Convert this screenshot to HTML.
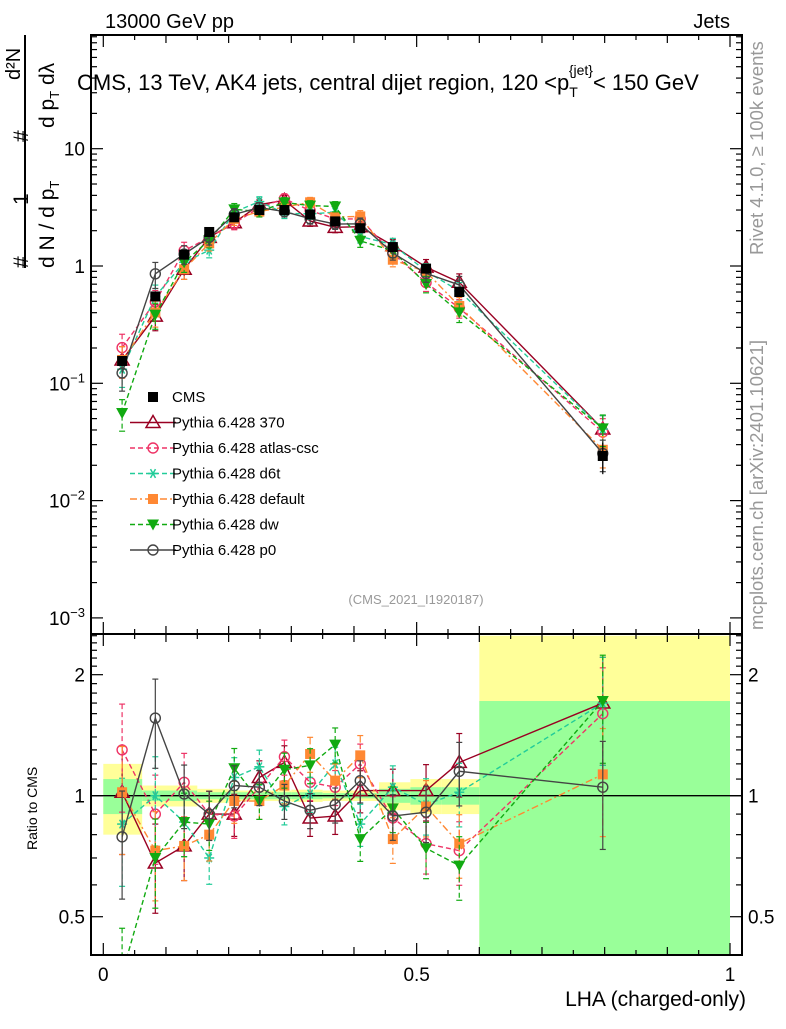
<!DOCTYPE html>
<html><head><meta charset="utf-8"><style>
body{margin:0;background:#fff}
svg{font-family:"Liberation Sans",sans-serif}
</style></head><body>
<svg id="chart" width="786" height="1024" xmlns="http://www.w3.org/2000/svg">
<defs>
<clipPath id="cm"><rect x="91" y="35" width="651" height="599"/></clipPath>
<clipPath id="cr"><rect x="91" y="634" width="651" height="321"/></clipPath>
</defs>
<g id="bands" clip-path="url(#cr)"></g>
<g id="mainMarks" clip-path="url(#cm)"></g>
<g id="ratioMarks" clip-path="url(#cr)"></g>
<g id="axes"></g>
<text x="105" y="28" font-size="20">13000 GeV pp</text>
<text x="730" y="28" font-size="20" text-anchor="end">Jets</text>
<text x="77" y="90" font-size="22">CMS, 13 TeV, AK4 jets, central dijet region, 120 &lt;p<tspan font-size="14" dy="7">T</tspan><tspan font-size="14" dx="-9" dy="-22">{jet}</tspan><tspan dy="15">&lt; 150 GeV</tspan></text>
<text transform="translate(763,255) rotate(-90)" font-size="18.5" fill="#999">Rivet 4.1.0, ≥ 100k events</text>
<text transform="translate(763,630) rotate(-90)" font-size="18.5" fill="#999">mcplots.cern.ch [arXiv:2401.10621]</text>
<text x="416" y="604" font-size="13" fill="#999" text-anchor="middle">(CMS_2021_I1920187)</text>
<g font-size="21">
<line x1="25" y1="35" x2="25" y2="268" stroke="#000" stroke-width="2"/>
<text transform="translate(28,268) rotate(-90)">#</text>
<text transform="translate(28,205) rotate(-90)">1</text>
<text transform="translate(28,142) rotate(-90)">#</text>
<text transform="translate(20,80) rotate(-90)" font-size="20">d²N</text>
<text transform="translate(54,268) rotate(-90)">d N / d p<tspan font-size="13" dy="5">T</tspan></text>
<text transform="translate(54,128) rotate(-90)">d p<tspan font-size="13" dy="5">T</tspan><tspan dy="-5"> dλ</tspan></text>
</g>
<text transform="translate(37,850) rotate(-90)" font-size="14">Ratio to CMS</text>
<text x="746" y="1006" font-size="21" text-anchor="end">LHA (charged-only)</text>
<g id="legend"></g>
</svg>
<script>
const xs=[0.03,0.083,0.129,0.169,0.209,0.249,0.289,0.33,0.37,0.41,0.462,0.515,0.568,0.797];
const cms=[0.155,0.55,1.25,1.95,2.6,3.0,3.0,2.75,2.4,2.1,1.45,0.95,0.6,0.024];
const cmsErr=[0.05,0.05,0.04,0.03,0.03,0.03,0.03,0.03,0.03,0.03,0.05,0.06,0.06,0.3];
const r370=[1.02,0.68,0.75,0.90,0.90,1.11,1.21,0.88,0.89,1.03,1.03,1.03,1.21,1.70];
const rAtlas=[1.30,0.90,1.08,0.90,0.89,1.05,1.25,1.08,1.05,1.20,0.88,0.76,0.73,1.60];
const rD6t=[0.85,1.00,0.86,0.70,1.11,1.18,0.94,1.01,1.20,0.85,1.05,0.95,1.02,1.70];
const rDefault=[1.02,0.73,0.75,0.80,0.97,0.97,1.06,1.27,1.09,1.26,0.78,0.94,0.76,1.13];
const rDw=[0.36,0.70,0.86,0.85,1.17,0.97,1.16,1.19,1.34,0.78,0.93,0.74,0.67,1.72];
const rP0=[0.79,1.56,1.01,0.90,1.06,1.05,0.97,0.92,0.95,1.09,0.89,0.91,1.15,1.05];
const mcErr=[0.30,0.25,0.18,0.14,0.12,0.10,0.10,0.10,0.10,0.12,0.13,0.16,0.18,0.30];
const bandEdges=[0,0.062,0.15,0.2,0.3,0.35,0.44,0.49,0.54,0.6,1.0];
const bandYellowUp=[0.2,0.06,0.04,0.03,0.035,0.03,0.08,0.1,0.1,1.5];
const bandYellowDn=[0.2,0.06,0.04,0.03,0.035,0.03,0.08,0.1,0.1,0.7];
const bandGreenUp=[0.1,0.03,0.02,0.02,0.02,0.015,0.04,0.05,0.05,0.72];
const bandGreenDn=[0.1,0.03,0.02,0.02,0.02,0.015,0.04,0.05,0.05,0.65];
const mainTicks=["10^-3","10^-2","10^-1","1","10"];
const ratioTicks=["0.5","1","2"];
const xTicks=["0","0.5","1"];

const NS="http://www.w3.org/2000/svg";
const X=v=>103.3+v*626.7;
const YM=v=>266-117.3*Math.log10(v);
const YR=v=>795.7-402*Math.log10(v);
function mk(tag,attrs,parent){const e=document.createElementNS(NS,tag);for(const k in attrs)e.setAttribute(k,attrs[k]);parent.appendChild(e);return e;}
const bands=document.getElementById('bands'),mm=document.getElementById('mainMarks'),rm=document.getElementById('ratioMarks'),ax=document.getElementById('axes'),lg=document.getElementById('legend');

for(let i=0;i<bandYellowUp.length;i++){
  const x1=X(bandEdges[i]),x2=X(bandEdges[i+1]);
  let e=mk('rect',{x:x1,y:YR(1+bandYellowUp[i]),width:x2-x1,height:YR(Math.max(0.01,1-bandYellowDn[i]))-YR(1+bandYellowUp[i]),fill:'#ffff99'},bands);
  
  
  e=mk('rect',{x:x1,y:YR(1+bandGreenUp[i]),width:x2-x1,height:YR(Math.max(0.01,1-bandGreenDn[i]))-YR(1+bandGreenUp[i]),fill:'#99ff99'},bands);
  
  
}
let ref=mk('line',{x1:91,x2:742,y1:YR(1),y2:YR(1),stroke:'#000','stroke-width':1.3},rm);



function marker(g,type,x,y,c){
  if(type==='tri') mk('path',{d:`M${x},${y-7}L${x+7},${y+5}L${x-7},${y+5}Z`,fill:'none',stroke:c,'stroke-width':1.5},g);
  else if(type==='circ') mk('circle',{cx:x,cy:y,r:5,fill:'none',stroke:c,'stroke-width':1.4},g);
  else if(type==='star'){for(const a of [0,60,120]){const r=a*Math.PI/180;mk('line',{x1:x-5*Math.cos(r),y1:y-5*Math.sin(r),x2:x+5*Math.cos(r),y2:y+5*Math.sin(r),stroke:c,'stroke-width':1.5},g);}}
  else if(type==='sq') mk('rect',{x:x-5,y:y-5,width:10,height:10,fill:c},g);
  else if(type==='dtri') mk('path',{d:`M${x-6},${y-5}L${x+6},${y-5}L${x},${y+6}Z`,fill:c},g);
}
const series=[
 {name:'Pythia 6.428 370',r:r370,c:'#990022',m:'tri',d:''},
 {name:'Pythia 6.428 atlas-csc',r:rAtlas,c:'#ee3366',m:'circ',d:'5,3'},
 {name:'Pythia 6.428 d6t',r:rD6t,c:'#22cc99',m:'star',d:'5,3'},
 {name:'Pythia 6.428 default',r:rDefault,c:'#ff8833',m:'sq',d:'7,3,2,3'},
 {name:'Pythia 6.428 dw',r:rDw,c:'#11aa11',m:'dtri',d:'5,3'},
 {name:'Pythia 6.428 p0',r:rP0,c:'#444444',m:'circ',d:''}
];
series.forEach((s,si)=>{
  const gm=mk('g',{},mm);
  
  
  const gr=mk('g',{},rm);
  
  
  const vals=cms.map((v,i)=>v*s.r[i]);
  mk('polyline',{points:xs.map((x,i)=>X(x)+','+YM(vals[i])).join(' '),fill:'none',stroke:s.c,'stroke-width':1.4,'stroke-dasharray':s.d},gm);
  mk('polyline',{points:xs.map((x,i)=>X(x)+','+YR(s.r[i])).join(' '),fill:'none',stroke:s.c,'stroke-width':1.4,'stroke-dasharray':s.d},gr);
  xs.forEach((x,i)=>{
    const e=mcErr[i];
    [[gm,YM,vals[i]],[gr,YR,s.r[i]]].forEach(([g,Y,v])=>{
      const y1=Y(v*(1+e)),y2=Y(Math.max(v*(1-e),1e-4));
      mk('line',{x1:X(x),x2:X(x),y1:y1,y2:y2,stroke:s.c,'stroke-width':1.2,'stroke-dasharray':s.d},g);
      mk('line',{x1:X(x)-3,x2:X(x)+3,y1:y1,y2:y1,stroke:s.c,'stroke-width':1.2},g);
      mk('line',{x1:X(x)-3,x2:X(x)+3,y1:y2,y2:y2,stroke:s.c,'stroke-width':1.2},g);
      marker(g,s.m,X(x),Y(v),s.c);
    });
  });
});
const gc=mk('g',{},mm);


xs.forEach((x,i)=>{
  mk('line',{x1:X(x),x2:X(x),y1:YM(cms[i]*(1+cmsErr[i])),y2:YM(cms[i]*(1-cmsErr[i])),stroke:'#000','stroke-width':1.2},gc);
  marker(gc,'sq',X(x),YM(cms[i]),'#000');
});
const legNames=['CMS'].concat(series.map(s=>s.name));
legNames.forEach((n,i)=>{
  const y=397+i*25.5;
  const g=mk('g',{},lg);
  
  
  if(i===0) marker(g,'sq',153,y,'#000');
  else{const s=series[i-1];mk('line',{x1:130,x2:176,y1:y,y2:y,stroke:s.c,'stroke-width':1.4,'stroke-dasharray':s.d},g);marker(g,s.m,153,y,s.c);}
  const t=mk('text',{x:172,y:y+5,'font-size':15},g);t.textContent=n;
});
[[91,35,651,599],[91,634,651,321]].forEach(r=>{const f=mk('rect',{x:r[0],y:r[1],width:r[2],height:r[3],fill:'none',stroke:'#000','stroke-width':2},ax);});
for(let d=-3;d<=1;d++){for(let k=1;k<10;k++){const v=k*Math.pow(10,d);const y=YM(v);if(y<35||y>634)continue;const L=k===1?12:6;
 mk('line',{x1:91,x2:91+L,y1:y,y2:y,stroke:'#000','stroke-width':1.2},ax);mk('line',{x1:742,x2:742-L,y1:y,y2:y,stroke:'#000','stroke-width':1.2},ax);}}
mainTicks.forEach((lab,i)=>{const d=i-3;const y=YM(Math.pow(10,d));const t=mk('text',{x:85,y:y+7,'font-size':19,'text-anchor':'end'},ax);
 
 
 if(lab.indexOf('^')>0){const p=lab.split('^');t.textContent=p[0];const s=mk('tspan',{'font-size':13,dy:-8},t);s.textContent=p[1].replace('-','−');}else t.textContent=lab;});
for(let k=4;k<=25;k++){const vv=k/10;const y=YR(vv);if(y<634||y>955)continue;const L=(k===5||k===10||k===20)?12:6;
 mk('line',{x1:91,x2:91+L,y1:y,y2:y,stroke:'#000','stroke-width':1.2},ax);mk('line',{x1:742,x2:742-L,y1:y,y2:y,stroke:'#000','stroke-width':1.2},ax);}
ratioTicks.forEach(lab=>{const y=YR(parseFloat(lab));
 let t=mk('text',{x:85,y:y+7,'font-size':19,'text-anchor':'end'},ax);t.textContent=lab;
 
 
 t=mk('text',{x:748,y:y+7,'font-size':19},ax);t.textContent=lab;
 
 });
for(let k=0;k<=20;k++){const x=X(k*0.05);const L=k%10===0?12:(k%2===0?8:5);
 [[35,1],[634,-1],[634,1],[955,-1]].forEach(([y0,s])=>mk('line',{x1:x,x2:x,y1:y0,y2:y0+s*L,stroke:'#000','stroke-width':1.2},ax));}
xTicks.forEach(lab=>{const t=mk('text',{x:X(parseFloat(lab)),y:981,'font-size':19,'text-anchor':'middle'},ax);t.textContent=lab;
 
 });
</script>
</body></html>
